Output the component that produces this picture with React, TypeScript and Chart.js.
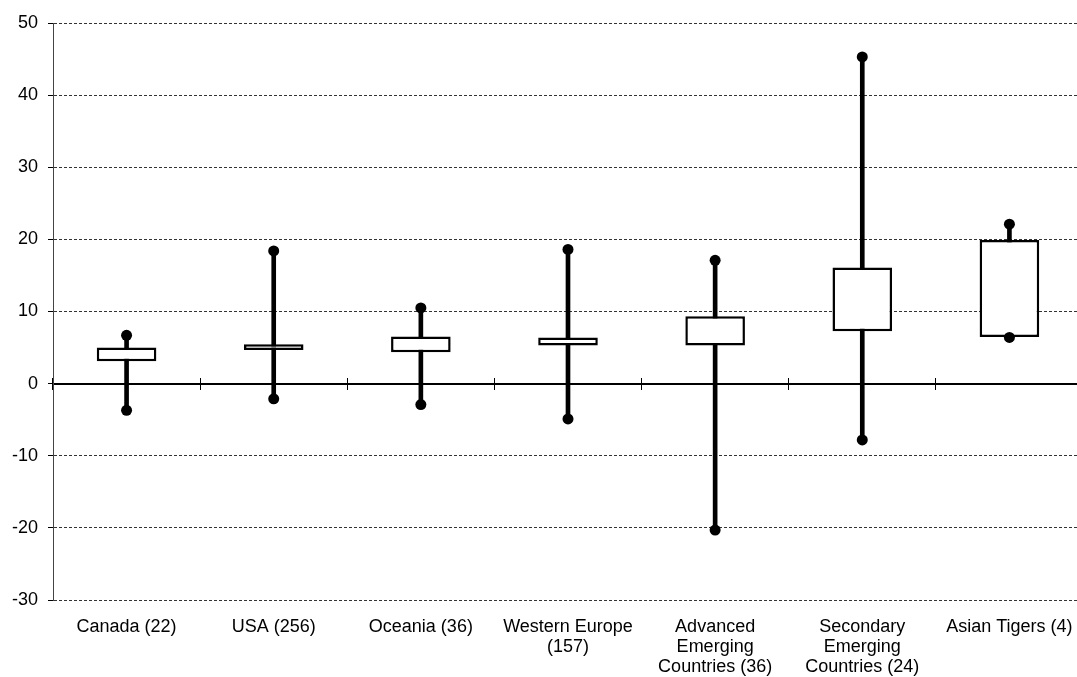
import { useEffect, useRef } from "react";
import { Chart, registerables } from "chart.js";
Chart.register(...registerables);

const categories: (string | string[])[] = [
  "Canada (22)",
  "USA (256)",
  "Oceania (36)",
  ["Western Europe", "(157)"],
  ["Advanced", "Emerging", "Countries (36)"],
  ["Secondary", "Emerging", "Countries (24)"],
  "Asian Tigers (4)",
];
const minValues = [-3.7, -2.1, -2.9, -4.9, -20.3, -7.8, 6.4];
const q1Values = [3.1, 4.65, 4.35, 5.3, 5.3, 7.25, 6.45];
const q3Values = [5.0, 5.45, 6.55, 6.4, 9.35, 16.1, 19.9];
const maxValues = [6.7, 18.4, 10.5, 18.6, 17.1, 45.3, 22.1];
const yTicks = { min: -30, max: 50, step: 10 };

export default function App() {
  const ref = useRef<HTMLCanvasElement | null>(null);
  useEffect(() => {
    if (!ref.current) return;
    Chart.defaults.font.family = "'Liberation Sans', Arial, sans-serif";
    Chart.defaults.color = "#000";
    const whiskers = categories.map((_, i) => [minValues[i], maxValues[i]]);
    const boxes = categories.map((_, i) => [q1Values[i], q3Values[i]]);
    const chart = new Chart(ref.current, {
      type: "bar",
      data: {
        labels: categories,
        datasets: [
          {
            type: "line",
            label: "max",
            data: maxValues,
            showLine: false,
            pointRadius: 5.5,
            pointBackgroundColor: "#000",
            pointBorderWidth: 0,
            order: 0,
          } as any,
          {
            type: "line",
            label: "min",
            data: minValues,
            showLine: false,
            pointRadius: 5.5,
            pointBackgroundColor: "#000",
            pointBorderWidth: 0,
            order: 0,
          } as any,
          {
            label: "box",
            data: boxes,
            backgroundColor: "#fff",
            borderColor: "#000",
            borderWidth: 2.5,
            borderSkipped: false,
            grouped: false,
            categoryPercentage: 1,
            barPercentage: 0.405,
            order: 1,
          } as any,
          {
            label: "whisker",
            data: whiskers,
            backgroundColor: "#000",
            borderWidth: 0,
            grouped: false,
            barThickness: 4,
            order: 2,
          } as any,
        ],
      },
      options: {
        animation: false,
        responsive: true,
        maintainAspectRatio: false,
        layout: { padding: { left: 8, top: 23, right: 3, bottom: 0 } },
        plugins: { legend: { display: false }, tooltip: { enabled: false } },
        scales: {
          x: {
            type: "category",
            offset: true,
            grid: { display: false, drawTicks: false },
            border: { display: false },
            ticks: {
              padding: 17,
              maxRotation: 0,
              autoSkip: false,
              color: "#000",
              font: { size: 18, lineHeight: 1.12 },
            },
            afterFit: (s: any) => {
              s.height = 77;
            },
          },
          x2: {
            type: "category",
            axis: "x",
            position: { y: 0 },
            offset: true,
            grid: {
              offset: true,
              drawOnChartArea: false,
              drawTicks: true,
              tickLength: 5,
              tickColor: "#000",
              tickWidth: 1,
            },
            border: { display: true, color: "#000", width: 2 },
            ticks: { display: false },
            afterFit: (s: any) => {
              s.height = 0;
            },
          },
          x3: {
            type: "category",
            axis: "x",
            position: { y: 0.75 },
            offset: true,
            grid: {
              offset: true,
              drawOnChartArea: false,
              drawTicks: true,
              tickLength: 5,
              tickColor: "#000",
              tickWidth: 1,
            },
            border: { display: false },
            ticks: { display: false },
            afterFit: (s: any) => {
              s.height = 0;
            },
          },
          y: {
            min: yTicks.min,
            max: yTicks.max,
            ticks: {
              stepSize: yTicks.step,
              padding: 10,
              color: "#000",
              font: { size: 18 },
            },
            grid: {
              color: (ctx: any) =>
                ctx.tick && ctx.tick.value === 0 ? "rgba(0,0,0,0)" : "#333",
              lineWidth: 1,
              tickColor: "#000",
              tickLength: 5,
              tickBorderDash: [],
            },
            border: { color: "#444", width: 1, dash: [3, 2] },
            afterFit: (s: any) => {
              s.width = 45;
            },
          },
        } as any,
      },
    });
    return () => chart.destroy();
  }, []);
  return (
    <div style={{ position: "fixed", inset: 0, overflow: "hidden", background: "#fff" }}>
      <div style={{ position: "absolute", left: 0, top: 0, width: 1090, height: 677 }}>
        <canvas ref={ref} />
      </div>
    </div>
  );
}
